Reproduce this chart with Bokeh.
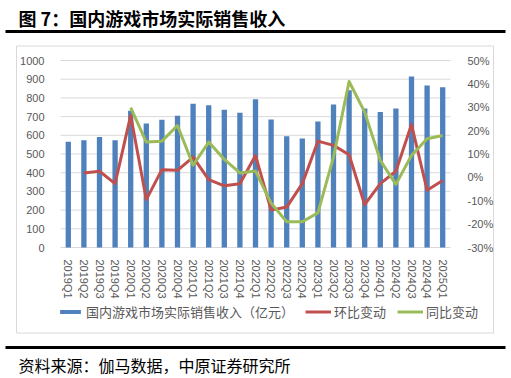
from bokeh.plotting import figure
from bokeh.models import (Range1d, FactorRange, LinearAxis, CategoricalAxis, FixedTicker,
                          NumeralTickFormatter, Legend, LegendItem, ColumnDataSource)
from bokeh.core.properties import value
from bokeh.embed import file_html
from bokeh.resources import INLINE

# ---------------- data ----------------
quarters = ["2019Q1", "2019Q2", "2019Q3", "2019Q4",
            "2020Q1", "2020Q2", "2020Q3", "2020Q4",
            "2021Q1", "2021Q2", "2021Q3", "2021Q4",
            "2022Q1", "2022Q2", "2022Q3", "2022Q4",
            "2023Q1", "2023Q2", "2023Q3", "2023Q4",
            "2024Q1", "2024Q2", "2024Q3", "2024Q4",
            "2025Q1"]
revenue = [565, 573, 591, 573,
           731, 663, 683, 704,
           769, 761, 737, 721,
           793, 684, 595, 583,
           674, 765, 841, 743,
           724, 743, 915, 866,
           857]
qoq_quarters = quarters[1:]
qoq = [0.019, 0.026, -0.027,
       0.265, -0.095, 0.033, 0.030,
       0.087, -0.010, -0.036, -0.027,
       0.094, -0.140, -0.127, -0.027,
       0.155, 0.137, 0.097, -0.117,
       -0.027, 0.026, 0.226, -0.055,
       -0.013]
yoy_quarters = quarters[4:]
yoy = [0.298, 0.151, 0.155, 0.222,
       0.052, 0.151, 0.077, 0.019,
       0.027, -0.110, -0.190, -0.190,
       -0.152, 0.087, 0.410, 0.279,
       0.073, -0.030, 0.094, 0.165,
       0.179]
left_ticks = [0, 100, 200, 300, 400, 500, 600, 700, 800, 900, 1000]
right_ticks = [-0.3, -0.2, -0.1, 0.0, 0.1, 0.2, 0.3, 0.4, 0.5]

title_text = "图 7：国内游戏市场实际销售收入"
source_text = "资料来源：伽马数据，中原证券研究所"
bar_name = "国内游戏市场实际销售收入（亿元）"
qoq_name = "环比变动"
yoy_name = "同比变动"

# ---------------- styles / layout (canvas pixels) ----------------
BLUE, RED, GREEN = "#4F81BD", "#C0504D", "#9BBB59"
GREY_TXT = "#595959"
GRID = "#D9D9D9"
TICK_FONT = "Liberation Sans"
CJK = "Noto Sans CJK SC"

W, H = 510, 376
PL, PR, PT, PB = 60, 450, 60, 247      # plot area in canvas pixels

n = len(quarters)
unit_px = (PR - PL) / n
pad_units = PL / unit_px
x_range = FactorRange(*quarters, range_padding=2 * pad_units / n,
                      range_padding_units="percent")


def cx(px):
    """canvas x pixel -> synthetic categorical coordinate"""
    return (px - PL) / unit_px


ly0, ly1 = left_ticks[0], left_ticks[-1]
lppu = (PB - PT) / (ly1 - ly0)
y_range = Range1d(ly0 - (H - PB) / lppu, ly1 + PT / lppu)

ry0, ry1 = right_ticks[0], right_ticks[-1]
rppu = (PB - PT) / (ry1 - ry0)
pct_range = Range1d(ry0 - (H - PB) / rppu, ry1 + PT / rppu)

p = figure(width=W, height=H, x_range=x_range, y_range=y_range,
           x_axis_location=None, y_axis_location=None,
           output_backend="svg", toolbar_location=None,
           min_border=0)
p.extra_y_ranges = {"pct": pct_range, "py": Range1d(H, 0)}
p.outline_line_color = None
p.background_fill_color = "white"
p.border_fill_color = "white"
p.grid.visible = False


def style_axis(ax, standoff):
    ax.axis_line_color = None
    ax.major_tick_line_color = None
    ax.minor_tick_line_color = None
    ax.major_label_text_color = GREY_TXT
    ax.major_label_text_font = TICK_FONT
    ax.major_label_text_font_size = "11px"
    ax.major_label_standoff = standoff


la = LinearAxis(ticker=FixedTicker(ticks=left_ticks), fixed_location=0)
style_axis(la, 10)
p.add_layout(la, "left")

ra = LinearAxis(y_range_name="pct", ticker=FixedTicker(ticks=right_ticks),
                formatter=NumeralTickFormatter(format="0%"), fixed_location=n)
style_axis(ra, 11)
p.add_layout(ra, "right")

ba = CategoricalAxis(fixed_location=ly0)
style_axis(ba, 6)
ba.major_label_orientation = "vertical"
p.add_layout(ba, "below")

# decorations in canvas pixel coordinates
p.quad(left=cx(16), right=cx(493), top=45.5, bottom=332.5, y_range_name="py",
       fill_color=None, line_color=GRID, line_width=1)
p.quad(left=cx(5), right=cx(505), top=29.5, bottom=32.5, y_range_name="py",
       fill_color="black", line_color=None)
p.quad(left=cx(5), right=cx(505), top=345.5, bottom=348.5, y_range_name="py",
       fill_color="black", line_color=None)
p.text(x=[cx(18)], y=[17], text=[title_text], y_range_name="py",
       text_font=value(CJK), text_font_style="bold", text_font_size="18px",
       text_color="black", text_baseline="middle")
p.text(x=[cx(18)], y=[364], text=[source_text], y_range_name="py",
       text_font=value(CJK), text_font_size="16px",
       text_color="black", text_baseline="middle")

# horizontal gridlines spanning the category band
p.segment(x0=0, x1=n, y0=left_ticks, y1=left_ticks, line_color=GRID, line_width=1)

# data glyphs
src = ColumnDataSource(dict(q=quarters, rev=revenue))
r_bar = p.vbar(x="q", top="rev", bottom=ly0, width=0.34, source=src,
               fill_color=BLUE, line_color=None)
r_qoq = p.line(x=qoq_quarters, y=qoq, y_range_name="pct",
               line_color=RED, line_width=3, line_join="round")
r_yoy = p.line(x=yoy_quarters, y=yoy, y_range_name="pct",
               line_color=GREEN, line_width=3, line_join="round")

legend = Legend(items=[LegendItem(label=bar_name, renderers=[r_bar]),
                       LegendItem(label=qoq_name, renderers=[r_qoq]),
                       LegendItem(label=yoy_name, renderers=[r_yoy])],
                orientation="horizontal", location=(57, H - 321),
                glyph_width=26, glyph_height=5, label_standoff=3, spacing=11,
                padding=0, margin=0, label_height=14,
                label_text_font=CJK, label_text_font_size="13px",
                label_text_color=GREY_TXT,
                border_line_color=None, background_fill_alpha=0)
p.add_layout(legend)

open("out.html", "w").write(file_html(p, INLINE))
